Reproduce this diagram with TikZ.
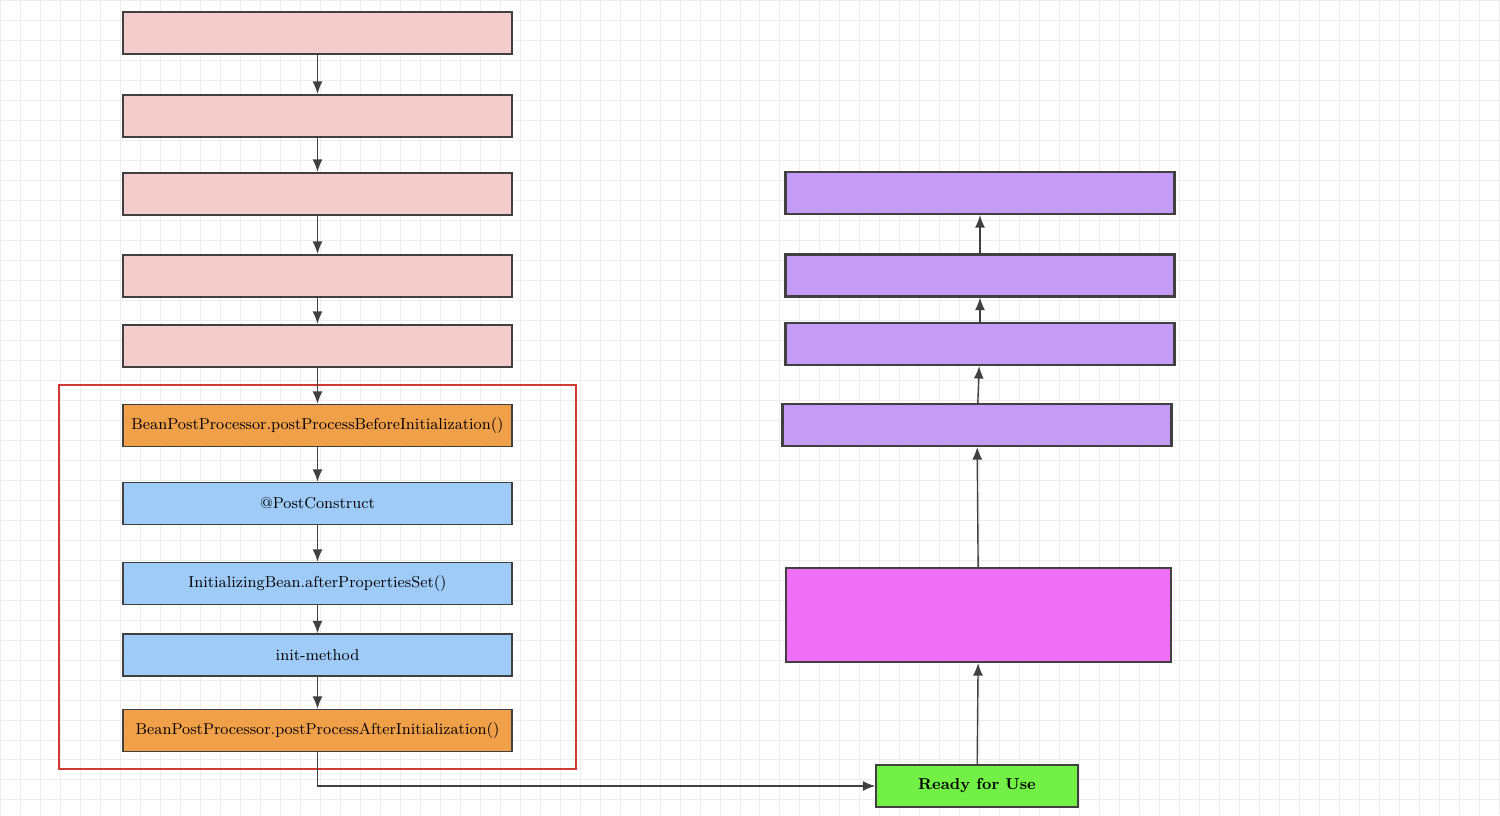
\documentclass[tikz,border=0pt]{standalone}
\usepackage{tikz}
\usetikzlibrary{arrows.meta}
\definecolor{pinkbox}{HTML}{F4CCCC}
\definecolor{orangebox}{HTML}{F1A04A}
\definecolor{bluebox}{HTML}{9FCBF8}
\definecolor{purplebox}{HTML}{C49BF5}
\definecolor{magentabox}{HTML}{EE6EF5}
\definecolor{greenbox}{HTML}{72F046}
\definecolor{framered}{HTML}{D03A32}
\begin{document}
\begin{tikzpicture}[x=0.02cm,y=-0.02cm]
 		\tikzstyle{stage}=[rectangle, draw=black!75, thick, minimum width=7.78cm, minimum height=0.84cm, font=\fontsize{9}{11}\selectfont]
 		\tikzstyle{pinkstage}=[stage, fill=pinkbox, very thick]
 		\tikzstyle{purplestage}=[stage, fill=purplebox, very thick]
 		\tikzstyle{connect}=[-{Latex[length=2.5mm,width=2mm]}, thick, draw=black!75]
 		\useasboundingbox (0,0) rectangle (1500,815);
 		\draw[black!7, step=0.4cm] (0,0) grid (1500,815);
 		\node[pinkstage] (s1) at (317.5,33) {};
 		\node[pinkstage] (s2) at (317.5,116) {};
 		\node[pinkstage] (s3) at (317.5,194) {};
 		\node[pinkstage] (s4) at (317.5,276) {};
 		\node[pinkstage] (s5) at (317.5,346) {};
 		\node[stage, fill=orangebox] (before) at (317.5,425.5) {BeanPostProcessor.postProcessBeforeInitialization()};
 		\node[stage, fill=bluebox] (post) at (317.5,503.5) {@PostConstruct};
 		\node[stage, fill=bluebox] (props) at (317.5,583.5) {InitializingBean.afterPropertiesSet()};
 		\node[stage, fill=bluebox] (init) at (317.5,655) {init-method};
 		\node[stage, fill=orangebox] (after) at (317.5,730.5) {BeanPostProcessor.postProcessAfterInitialization()};
 		\node[purplestage] (r1) at (980,193) {};
 		\node[purplestage] (r2) at (980,275.5) {};
 		\node[purplestage] (r3) at (980,344) {};
 		\node[purplestage] (r4) at (977,425) {};
 		\node[stage, fill=magentabox, very thick, minimum height=1.88cm, minimum width=7.7cm] (use) at (978.5,615) {};
 		\node[stage, fill=greenbox, minimum width=4.04cm, minimum height=0.84cm, font=\fontsize{9}{11}\selectfont\bfseries] (ready) at (977,786) {Ready for Use};
 		\draw[framered, very thick] (59,385) rectangle (576,769);
 		\path (s1) edge [connect] (s2)
 		(s2) edge [connect] (s3)
 		(s3) edge [connect] (s4)
 		(s4) edge [connect] (s5)
 		(s5) edge [connect] (before)
 		(before) edge [connect] (post)
 		(post) edge [connect] (props)
 		(props) edge [connect] (init)
 		(init) edge [connect] (after)
 		(r2) edge [connect] (r1)
 		(r3) edge [connect] (r2)
 		(r4) edge [connect] (r3)
 		(use) edge [connect] (r4)
 		(ready) edge [connect] (use);
 		\draw[connect] (after.south) |- (ready.west);
 		\end{tikzpicture}
\end{document}
